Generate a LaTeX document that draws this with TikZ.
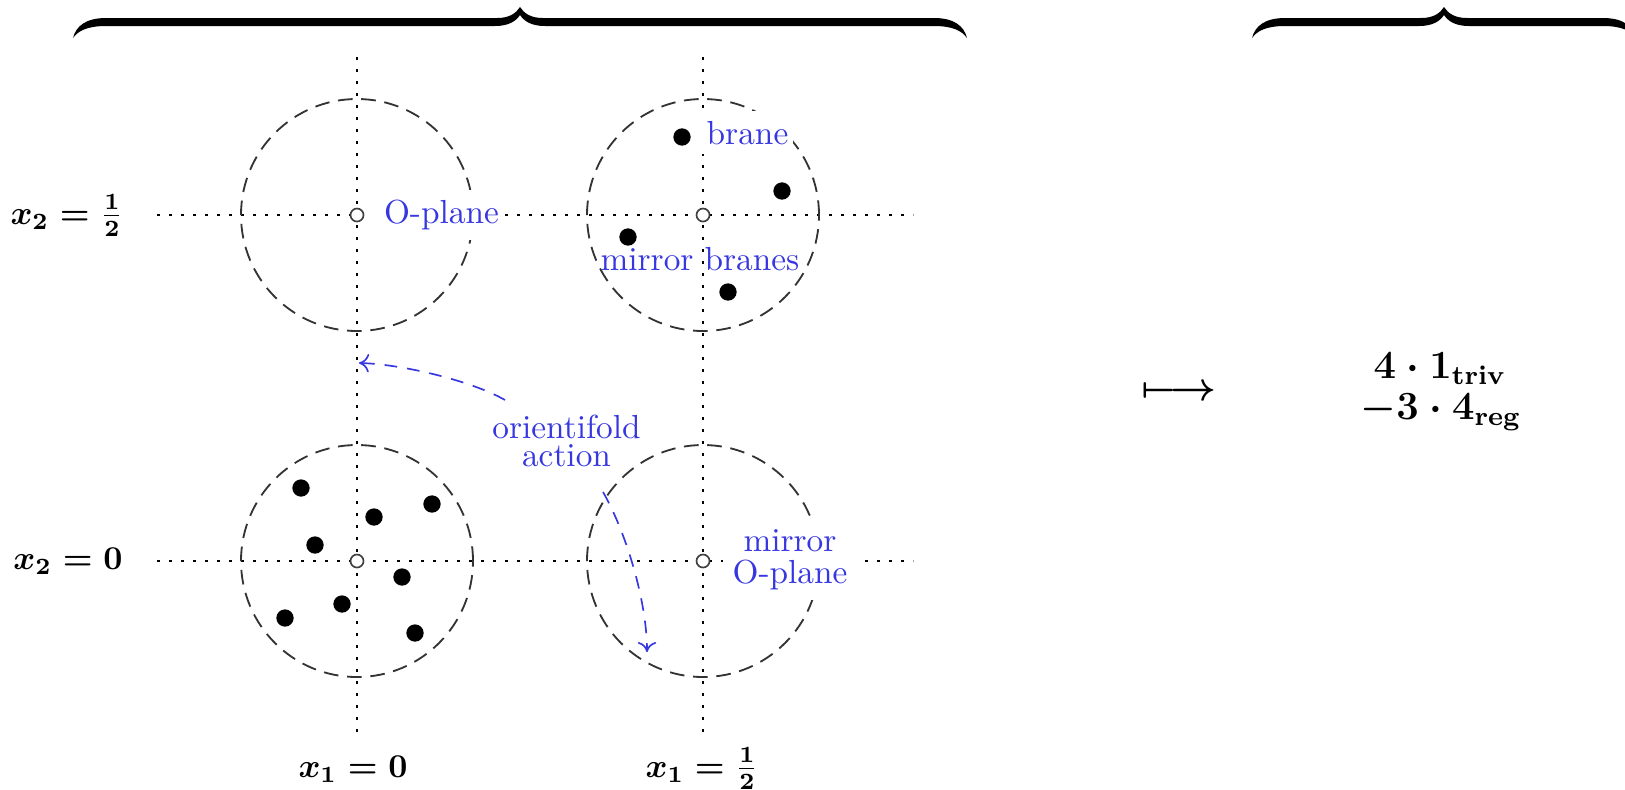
\documentclass[tikz,border=0pt]{standalone}
\usepackage{amsmath}
\usetikzlibrary{arrows.meta}
\definecolor{lblblue}{RGB}{55,55,225}
\begin{document}
\begin{tikzpicture}[x=0.3pt,y=-0.3pt,
  axisline/.style={line width=0.5pt, dash pattern=on 0.8pt off 2.8pt},
  regioncircle/.style={circle, draw=black!80, line width=0.55pt, dash pattern=on 4.4pt off 2.6pt, minimum size=69.6pt, inner sep=0pt},
  oplane/.style={circle, draw=black!75, fill=white, line width=0.5pt, minimum size=3.9pt, inner sep=0pt},
  branedot/.style={circle, fill=black, minimum size=5.2pt, inner sep=0pt},
  lbl/.style={text=lblblue, font=\normalsize},
  lblfill/.style={lbl, fill=white, inner sep=3pt},
  actionarrow/.style={draw=lblblue, line width=0.5pt, dash pattern=on 3.8pt off 3pt, -{To[length=3pt,width=5.5pt]}},
  coordlbl/.style={font=\boldmath},
  bigmath/.style={font=\large\boldmath}
]
\useasboundingbox (0,0) rectangle (1625,789);
\clip (0,0) rectangle (1625,789);

% axes
\coordinate (v1t) at (357,57);  \coordinate (v1b) at (357,733);
\coordinate (v2t) at (703,57);  \coordinate (v2b) at (703,733);
\coordinate (h1l) at (157,215); \coordinate (h1r) at (913,215);
\coordinate (h2l) at (157,561); \coordinate (h2r) at (913,561);
\draw[axisline] (v1t) -- (v1b);
\draw[axisline] (v2t) -- (v2b);
\draw[axisline] (h1l) -- (h1r);
\draw[axisline] (h2l) -- (h2r);

% regions
\node[regioncircle] (r11) at (357,215) {};
\node[regioncircle] (r21) at (703,215) {};
\node[regioncircle] (r12) at (357,561) {};
\node[regioncircle] (r22) at (703,561) {};

% labels
\node[lblfill, inner xsep=1.5pt, anchor=west] (lo) at (370,215) {\hspace*{2.5pt}O-plane};
\node[lblfill, inner xsep=1.5pt, anchor=base] (lb) at (747.5,144) {brane};
\node[lbl, anchor=base] (lmb) at (700,270) {mirror branes};
\node[lbl, align=center] (lact) at (566.5,441) {orientifold\\[-3.5pt]action};
\node[lblfill, align=center] (lmo) at (790,560) {mirror\\[-2.4pt]O-plane};

% O-planes
\node[oplane] (o11) at (357,215) {};
\node[oplane] (o21) at (703,215) {};
\node[oplane] (o12) at (357,561) {};
\node[oplane] (o22) at (703,561) {};

% branes top right
\node[branedot] (b1) at (682,137) {};
\node[branedot] (b2) at (782,191) {};
\node[branedot] (b3) at (628,237) {};
\node[branedot] (b4) at (728,292) {};
% branes lower left
\node[branedot] (d1) at (301,488) {};
\node[branedot] (d2) at (432,504) {};
\node[branedot] (d3) at (374,517) {};
\node[branedot] (d4) at (315,545) {};
\node[branedot] (d5) at (402,577) {};
\node[branedot] (d6) at (342,604) {};
\node[branedot] (d7) at (285,618) {};
\node[branedot] (d8) at (415,633) {};

% orientifold action arrows
\coordinate (a1s) at (505,400); \coordinate (a1e) at (359,363);
\draw[actionarrow] (a1s) .. controls (470,380) and (400,364) .. (a1e);
\coordinate (a2s) at (603,492); \coordinate (a2e) at (647,652);
\draw[actionarrow] (a2s) .. controls (625,530) and (647,600) .. (a2e);

% coordinate labels
\node[coordlbl, anchor=base] (y2) at (67,224) {$x_2 = \frac{1}{2}$};
\node[coordlbl, anchor=base] (y1) at (68,569) {$x_2 = 0$};
\node[coordlbl, anchor=base] (x1) at (353,777) {$x_1 = 0$};
\node[coordlbl, anchor=base] (x2) at (702,777) {$x_1 = \frac{1}{2}$};

% map and result
\node[bigmath] (map) at (1179,393) {$\longmapsto$};
\node[bigmath, anchor=base] (f1) at (1440,378) {$4\cdot\mathbf{1}_{\mathbf{triv}}$};
\node[bigmath, anchor=base] (f2) at (1441,419) {$-3\cdot\mathbf{4}_{\mathbf{reg}}$};

% braces
\fill[black] (73,38) .. controls (76,26) and (86,18) .. (106,18) -- (497,18)
  .. controls (510,18) and (516,13) .. (520,7) .. controls (524,13) and (530,18) .. (543,18)
  -- (934,18) .. controls (954,18) and (964,26) .. (967,38)
  .. controls (962,31) and (953,26) .. (934,26) -- (545,26)
  .. controls (531,26) and (524,21) .. (520,15) .. controls (516,21) and (509,26) .. (495,26)
  -- (106,26) .. controls (87,26) and (78,31) .. (73,38) -- cycle;
\fill[black] (1252,38) .. controls (1255,26) and (1265,18) .. (1285,18) -- (1421,18)
  .. controls (1434,18) and (1440,13) .. (1444,7) .. controls (1448,13) and (1454,18) .. (1467,18)
  -- (1603,18) .. controls (1623,18) and (1633,26) .. (1636,38)
  .. controls (1631,31) and (1622,26) .. (1603,26) -- (1469,26)
  .. controls (1455,26) and (1448,21) .. (1444,15) .. controls (1440,21) and (1433,26) .. (1419,26)
  -- (1285,26) .. controls (1266,26) and (1257,31) .. (1252,38) -- cycle;
\end{tikzpicture}
\end{document}
